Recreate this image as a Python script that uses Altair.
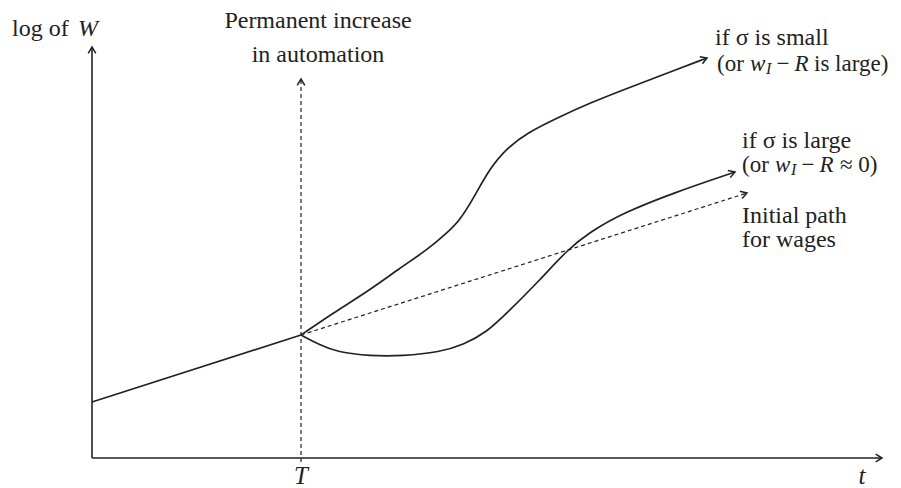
import math
import altair as alt
import pandas as pd

# ---- data (t = time, W = log of wage), arbitrary units ----
T = 10.45
pre_t = [0.0, 10.45]
pre_w = [2.8, 6.15]

small_t = [10.45, 12.05, 13.75, 15.4, 16.75, 17.75, 18.4, 19.05, 19.9, 20.75, 21.75, 23.25, 24.9, 26.55, 28.25, 30.75]
small_w = [6.15, 7.25, 8.3, 9.5, 10.4, 11.25, 11.9, 12.95, 14.5, 15.5, 16.25, 17.0, 17.75, 18.4, 19.05, 20.0]

large_t = [10.45, 11.4, 12.25, 13.9, 15.55, 17.4, 18.55, 19.75, 20.75, 22.4, 23.75, 24.9, 26.55, 29.05, 32.15]
large_w = [6.15, 5.65, 5.3, 5.1, 5.1, 5.3, 5.65, 6.3, 7.25, 8.9, 10.4, 11.3, 12.25, 13.25, 14.3]

init_t = [10.45, 32.75]
init_w = [6.15, 13.25]

yaxis_t = [0.0, 0.0]
yaxis_w = [0.0, 20.55]
xaxis_t = [0.0, 39.5]
xaxis_w = [0.0, 0.0]
tline_t = [T, T]
tline_w = [-0.2, 18.95]

# text labels (font size 24)
big_left_text = ["log of", "if σ is small", "if σ is large", "Initial path", "for wages"]
big_left_t = [-4.0, 31.15, 32.5, 32.5, 32.5]
big_left_w = [21.1, 20.65, 15.5, 11.75, 10.55]

# math lines (font size 23)
normal_left_text = ["(or", "−", "is large)", "(or", "−", "≈ 0)"]
normal_left_t = [31.25, 34.225, 36.1, 32.5, 35.475, 37.4]
normal_left_w = [19.375, 19.375, 19.375, 14.3, 14.3, 14.3]

italic_left_text = ["w", "R", "w", "R"]
italic_left_t = [32.9, 35.125, 34.15, 36.375]
italic_left_w = [19.375, 19.375, 14.3, 14.3]

sub_text = ["I", "I"]
sub_t = [33.7, 34.95]
sub_w = [19.225, 14.15]

big_italic_text = ["W"]
big_italic_t = [-0.7]
big_italic_w = [21.1]

center_text = ["Permanent increase", "in automation"]
center_t = [11.3, 11.3]
center_w = [21.5, 19.8]

italic_center_text = ["T", "t"]
italic_center_t = [T, 38.5]
italic_center_w = [-1.3, -1.3]

# ---- build tables ----
def series_rows(name, ts, ws):
    return [{"s": name, "i": k, "t": a, "W": b} for k, (a, b) in enumerate(zip(ts, ws))]

solid = pd.DataFrame(
    series_rows("pre", pre_t, pre_w)
    + series_rows("small", small_t, small_w)
    + series_rows("large", large_t, large_w)
)
axes = pd.DataFrame(series_rows("yaxis", yaxis_t, yaxis_w) + series_rows("xaxis", xaxis_t, xaxis_w))
dashed = pd.DataFrame(series_rows("init", init_t, init_w) + series_rows("tline", tline_t, tline_w))

def head(ts, ws):
    dt, dw = ts[-1] - ts[-2], ws[-1] - ws[-2]
    ang = math.degrees(math.atan2(dw, dt))
    return {"t": ts[-1], "W": ws[-1], "a": (360 - ang) % 360}

heads = pd.DataFrame([
    head(small_t, small_w), head(large_t, large_w), head(init_t, init_w),
    head(yaxis_t, yaxis_w), head(xaxis_t, xaxis_w), head(tline_t, tline_w),
])

def lbl(texts, ts, ws):
    return pd.DataFrame({"txt": texts, "t": ts, "W": ws})

X = alt.X("t:Q", scale=alt.Scale(domain=[-4.2, 40.05], nice=False, zero=False), axis=None)
Y = alt.Y("W:Q", scale=alt.Scale(domain=[-1.5, 22.5], nice=False, zero=False), axis=None)

INK = "#222222"
FONT = "'Liberation Serif', 'Times New Roman', 'DejaVu Serif', serif"

def text_layer(df, size, align="left", italic=False):
    kw = dict(align=align, baseline="alphabetic", font=FONT, fontSize=size, color=INK)
    if italic:
        kw["fontStyle"] = "italic"
    return alt.Chart(df).mark_text(**kw).encode(x=X, y=Y, text="txt:N")

curves = alt.Chart(solid).mark_line(color=INK, strokeWidth=1.7, interpolate="basis").encode(
    x=X, y=Y, detail="s:N", order="i:Q")
axis_lines = alt.Chart(axes).mark_line(color=INK, strokeWidth=1.6).encode(
    x=X, y=Y, detail="s:N", order="i:Q")
dash_lines = alt.Chart(dashed).mark_line(color=INK, strokeWidth=1.2, strokeDash=[4, 3]).encode(
    x=X, y=Y, detail="s:N", order="i:Q")
arrows = alt.Chart(heads).mark_point(
    shape="M-1,-0.6L0,0L-1,0.6", filled=False, color=INK, strokeWidth=1.5, size=160, opacity=1
).encode(x=X, y=Y, angle=alt.Angle("a:Q", scale=None))

layers = [
    axis_lines, dash_lines, curves, arrows,
    text_layer(lbl(big_left_text, big_left_t, big_left_w), 24),
    text_layer(lbl(big_italic_text, big_italic_t, big_italic_w), 24, italic=True),
    text_layer(lbl(normal_left_text, normal_left_t, normal_left_w), 23),
    text_layer(lbl(italic_left_text, italic_left_t, italic_left_w), 23, italic=True),
    text_layer(lbl(sub_text, sub_t, sub_w), 16, italic=True),
    text_layer(lbl(center_text, center_t, center_w), 24, align="center"),
    text_layer(lbl(italic_center_text, italic_center_t, italic_center_w), 25, align="center", italic=True),
]

chart = alt.layer(*layers).properties(
    width=885, height=480, padding=0, autosize=alt.AutoSizeParams(type="none"),
    background="white",
).configure_view(stroke=None)

chart.save("out.html", embed_options={"renderer": "svg", "actions": False})
